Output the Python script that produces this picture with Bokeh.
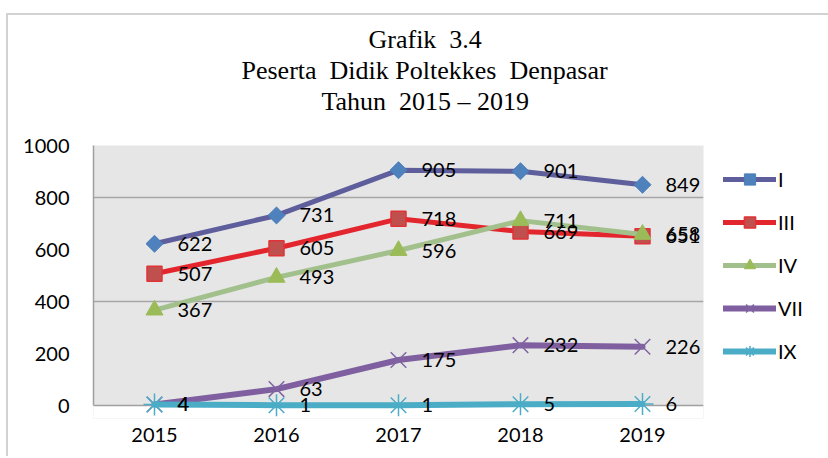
import math
from bokeh.plotting import figure
from bokeh.models import (ColumnDataSource, FactorRange, Range1d, FixedTicker, Legend, LegendItem, Title,
                          BoxAnnotation, Span)
from bokeh.core.properties import value
from bokeh.embed import file_html
from bokeh.resources import INLINE

years = ["2015", "2016", "2017", "2018", "2019"]
series_names = ["I", "III", "IV", "VII", "IX"]
vals_I = [622, 731, 905, 901, 849]
vals_III = [507, 605, 718, 669, 651]
vals_IV = [367, 493, 596, 711, 658]
vals_VII = [4, 63, 175, 232, 226]
vals_IX = [4, 1, 1, 5, 6]
y_ticks = [0, 200, 400, 600, 800, 1000]
grid_ticks = [400, 800]
title_lines = ["Grafik\u00a0 3.4", "Peserta\u00a0 Didik Poltekkes\u00a0 Denpasar", "Tahun\u00a0 2015 \u2013 2019"]

FONT = value("Lato")

# a little room below zero so markers and labels on the zero line are not clipped
p = figure(frame_width=610, frame_height=273, x_range=FactorRange(factors=years), y_range=Range1d(-50, 1000),
           output_backend="svg", toolbar_location=None,
           min_border_left=93, min_border_right=125, min_border_top=145, min_border_bottom=38)
p.background_fill_color = "#e6e6e6"
p.border_fill_alpha = 0
p.outline_line_color = None
p.styles = {
    "background": "linear-gradient(#d2d2d2,#d2d2d2) 6px 13px / 2px 100% no-repeat, "
                  "linear-gradient(#d2d2d2,#d2d2d2) 6px 13px / 100% 2px no-repeat, white"
}
p.add_layout(BoxAnnotation(top=0, fill_color="white", fill_alpha=1, line_color=None, level="underlay"))
p.add_layout(Span(location=0, dimension="width", line_color="#a0a0a0", line_width=1.5, level="underlay"))

p.xgrid.grid_line_color = None
p.ygrid.ticker = FixedTicker(ticks=grid_ticks)
p.ygrid.grid_line_color = "#a6a6a6"
p.ygrid.grid_line_width = 1.5

p.yaxis.ticker = FixedTicker(ticks=y_ticks)
p.yaxis.bounds = (0, 1000)
for ax in (p.xaxis[0], p.yaxis[0]):
    ax.axis_line_color = "#a0a0a0"
    ax.axis_line_width = 1.5
    ax.major_tick_line_color = None
    ax.minor_tick_line_color = None
    ax.major_label_text_font = "Lato"
    ax.major_label_text_font_size = "20px"
    ax.major_label_text_color = "black"
p.xaxis.axis_line_color = None
p.yaxis.major_label_standoff = 18
p.xaxis.major_label_standoff = 3

styles = [
    ("I", vals_I, "#5e5e9c", 5, dict(marker="square", angle=math.pi / 4, size=12, fill_color="#4f81bd", line_color="#4a7ebb", line_width=1)),
    ("III", vals_III, "#e3262e", 5, dict(marker="square", size=15, fill_color="#c0504d", line_color="#e03237", line_width=1.5)),
    ("IV", vals_IV, "#a2c08c", 5, dict(marker="triangle", size=17, fill_color="#9bbb59", line_color="#9bbb59", line_width=1)),
    ("VII", vals_VII, "#7f5f9f", 6, dict(marker="x", size=22, line_color="#8064a2", line_width=1.5)),
    ("IX", vals_IX, "#4bacc6", 6, dict(marker="asterisk", size=22, line_color="#4bacc6", line_width=1.5)),
]

items = []
for name, vals, lc, lw, mk in styles:
    src = ColumnDataSource(dict(x=years, y=vals))
    lr = p.line("x", "y", source=src, line_color=lc, line_width=lw, line_cap="round", line_join="round")
    sr = p.scatter("x", "y", source=src, **mk)
    items.append(LegendItem(label=name, renderers=[lr, sr]))

for name, vals, lc, lw, mk in styles:
    src = ColumnDataSource(dict(x=years, y=vals, lbl=[str(v) for v in vals]))
    p.text("x", "y", text="lbl", source=src, x_offset=23, text_baseline="middle", text_align="left",
           text_font=FONT, text_font_size="20px", text_color="black")

legend = Legend(items=items, location="top_left", orientation="vertical",
                glyph_width=53, glyph_height=28, spacing=15, label_standoff=2, label_height=20,
                padding=0, margin=20, border_line_color=None, background_fill_alpha=0,
                label_text_font="Lato", label_text_font_size="20px", label_text_color="black")
p.add_layout(legend, "right")

# title lines: p.title is the outermost; added titles stack outward from the frame
tstyle = dict(align="left", text_font="Liberation Serif", text_font_size="26px",
              text_font_style="normal", text_color="black", standoff=0)
p.title.text = title_lines[0]
for k, v in tstyle.items():
    setattr(p.title, k, v)
p.title.offset = 275
p.add_layout(Title(text=" ", text_font_size="2px", standoff=26), "above")
p.add_layout(Title(text=title_lines[2], offset=228, **tstyle), "above")
p.add_layout(Title(text=title_lines[1], offset=148, **tstyle), "above")

open("out.html", "w").write(file_html(p, INLINE))
